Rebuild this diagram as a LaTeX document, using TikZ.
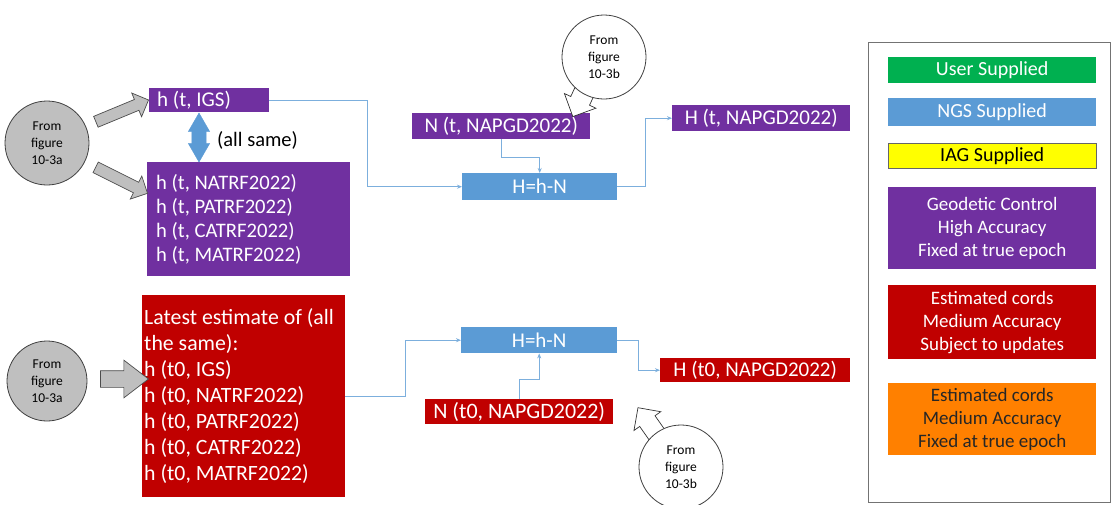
\documentclass[tikz,border=0pt]{standalone}
\usepackage{fontspec}
\setmainfont{Carlito}
\usetikzlibrary{shapes.arrows,arrows.meta}
\definecolor{geopurple}{HTML}{7030A0}
\definecolor{estred}{HTML}{C00000}
\definecolor{ngsblue}{HTML}{5B9BD5}
\definecolor{usergreen}{HTML}{00B050}
\definecolor{iagyellow}{HTML}{FFFF00}
\definecolor{estorange}{HTML}{FF8000}
\definecolor{circgrey}{HTML}{BFBFBF}
\newcommand{\boxfont}{\fontsize{21}{25}\selectfont}
\newcommand{\legfont}{\fontsize{19}{23}\selectfont}
\newcommand{\circfont}{\fontsize{13.5}{17}\selectfont}
\tikzset{
  cbox/.style={anchor=north west, inner sep=0pt, text=white, font=\boxfont},
  conn/.style={draw=ngsblue!80, line width=0.8pt, -{Stealth[length=5pt,width=4pt]}},
  fromcirc/.style={circle, draw=black!75, line width=0.8pt, minimum size=84pt,
    inner sep=0pt, align=center, font=\circfont},
  greyarrow/.style={single arrow, draw=black!70, fill=circgrey, line width=0.7pt},
  whitearrow/.style={single arrow, draw=black!80, fill=white, line width=0.7pt}
}
\begin{document}
\begin{tikzpicture}[x=1pt, y=-1pt]
\useasboundingbox[fill=white] (0,0) rectangle (1112,504);
%Top row: true epoch
	\node[cbox, fill=geopurple, minimum width=120pt, minimum height=24pt,
	  align=flush left, inner xsep=8pt, text width=104pt] (igs) at (149,88) {h (t, IGS)};
	\node[cbox, fill=geopurple, minimum width=203pt, minimum height=114pt, font=\fontsize{20.6}{24}\selectfont,
	  align=flush left, inner xsep=9pt, text width=185pt] (natrf) at (147,162)
	  {h (t, NATRF2022)\\h (t, PATRF2022)\\h (t, CATRF2022)\\h (t, MATRF2022)};
	\node[double arrow, draw=ngsblue, fill=ngsblue, inner sep=7pt, minimum height=49pt,
	  double arrow head extend=3.5pt, double arrow tip angle=60, rotate=90] (same) at (199,137.5) {};
	\node[anchor=west, font=\fontsize{20.5}{24}\selectfont, inner sep=0pt] (samelbl) at (217,140) {(all same)};
	\node[cbox, fill=geopurple, minimum width=178pt, minimum height=26pt] (nt) at (412,113) {N (t, NAPGD2022)};
	\node[cbox, fill=ngsblue, minimum width=155pt, minimum height=27pt] (hmn) at (462,173) {H=h-N};
	\node[cbox, fill=geopurple, minimum width=178pt, minimum height=26pt] (Ht) at (672,105) {H (t, NAPGD2022)};
%From figure 10-3a (top)
	\node[fromcirc, fill=circgrey] (figa) at (47,143) {From\\figure\\10-3a};
	\node[greyarrow, inner sep=5.5pt, minimum height=57pt, single arrow head extend=7pt,
	  rotate=22.5] (arra) at (119.5,112) {};
	\node[greyarrow, inner sep=5.5pt, minimum height=58pt, single arrow head extend=7pt,
	  rotate=-26.6] (arrb) at (119,179) {};
%From figure 10-3b (top)
	\node[whitearrow, inner sep=10pt, minimum height=45pt, single arrow head extend=7pt,
	  rotate=-115] (arrc) at (584.5,91.5) {};
	\node[fromcirc, fill=white] (figb) at (604,57) {From\\figure\\10-3b};
%Top connectors
	\draw[conn] (igs.east) -- ++(98,0) |- (hmn.west);
	\draw[conn] (nt.south) -- ++(0,18) -| (hmn.north);
	\draw[conn] (hmn.east) -- ++(28,0) |- (Ht.west);
%Bottom row: latest estimate
	\node[cbox, fill=estred, minimum width=203pt, minimum height=202pt,
	  align=flush left, inner xsep=2pt, text width=199pt, font=\fontsize{21.8}{26}\selectfont] (latest) at (142,295)
	  {Latest estimate of (all\\the same):\\h (t0, IGS)\\h (t0, NATRF2022)\\
	   h (t0, PATRF2022)\\h (t0, CATRF2022)\\h (t0, MATRF2022)};
	\node[cbox, fill=ngsblue, minimum width=156pt, minimum height=26pt] (hmnb) at (461,327) {H=h-N};
	\node[cbox, fill=estred, minimum width=188pt, minimum height=25pt, font=\fontsize{22}{26}\selectfont] (nto) at (425,399) {N (t0, NAPGD2022)};
	\node[cbox, fill=estred, minimum width=190pt, minimum height=24pt] (Hto) at (660,358) {H (t0, NAPGD2022)};
%From figure 10-3a (bottom)
	\node[fromcirc, fill=circgrey, minimum size=80pt] (figc) at (47,381) {From\\figure\\10-3a};
	\node[greyarrow, inner sep=8pt, minimum height=48pt, single arrow head extend=10.5pt,
	  single arrow tip angle=75] (arrd) at (119,379) {};
%From figure 10-3b (bottom)
	\node[whitearrow, inner sep=9pt, minimum height=50pt, single arrow head extend=7pt,
	  rotate=125] (arre) at (655,432) {};
	\node[fromcirc, fill=white] (figd) at (681,467) {From\\figure\\10-3b};
%Bottom connectors
	\draw[conn] (latest.east) -- ++(60,0) |- (hmnb.west);
	\draw[conn] (nto.north) -- ++(0,-20) -| (hmnb.south);
	\draw[conn] (hmnb.east) -- ++(21,0) |- (Hto.west);
%Legend
	\node[draw=black!55, line width=0.8pt, anchor=north west, minimum width=242pt,
	  minimum height=460pt] (legend) at (868,42) {};
	\node[cbox, fill=usergreen, font=\fontsize{20}{24}\selectfont, minimum width=208pt, minimum height=26pt] (luser) at (888,57) {User Supplied};
	\node[cbox, fill=ngsblue, font=\fontsize{20}{24}\selectfont, minimum width=208pt, minimum height=28pt] (lngs) at (888,98) {NGS Supplied};
	\node[cbox, fill=iagyellow, draw=black!60, text=black, font=\fontsize{20}{24}\selectfont, minimum width=208pt, minimum height=25pt] (liag) at (888,143) {IAG Supplied};
	\node[cbox, fill=geopurple, font=\legfont, minimum width=208pt, minimum height=82pt, align=center] (lgeo) at (888,187)
	  {Geodetic Control\\High Accuracy\\Fixed at true epoch};
	\node[cbox, fill=estred, font=\legfont, minimum width=208pt, minimum height=74pt, align=center] (lest) at (888,285)
	  {Estimated cords\\Medium Accuracy\\Subject to updates};
	\node[cbox, fill=estorange, font=\legfont, text=black!85, minimum width=208pt, minimum height=72pt, align=center] (lfix) at (888,383)
	  {Estimated cords\\Medium Accuracy\\Fixed at true epoch};
\end{tikzpicture}
\end{document}
